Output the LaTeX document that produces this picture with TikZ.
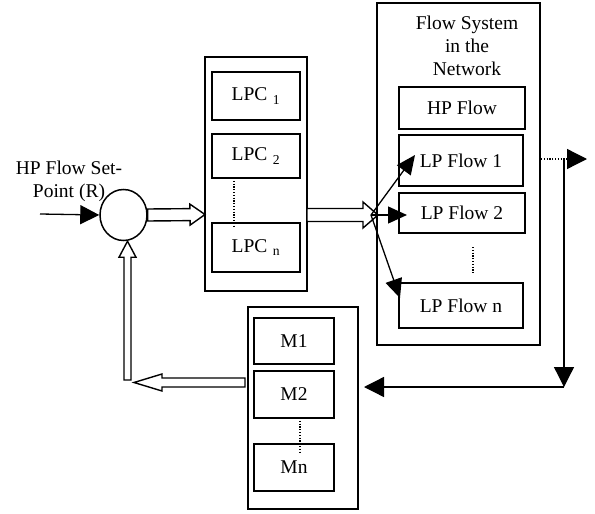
\documentclass[tikz,border=0pt]{standalone}
\usepackage{fontspec}
\setmainfont{Liberation Serif}
\usetikzlibrary{calc,arrows.meta,shapes.geometric}

% Block arrow drawn as an outlined polygon: from, to, half shaft width, half head width, head length
\newcommand{\hollowarrow}[5]{%
  \coordinate (hbase) at ($(#2)!#5!(#1)$);
  \draw[hollow] ($(#1)!#3!90:(#2)$) -- ($(hbase)!#3!90:(#2)$) -- ($(hbase)!#4!90:(#2)$)
    -- (#2) -- ($(hbase)!#4!-90:(#2)$) -- ($(hbase)!#3!-90:(#2)$) -- ($(#1)!#3!-90:(#2)$) -- cycle;}

\begin{document}
\begin{tikzpicture}[x=1pt,y=-1pt,
  txt/.style={font=\fontsize{19.5}{23}\selectfont, inner sep=0pt, align=center},
  box/.style={txt, draw, line width=1.5pt},
  thinline/.style={line width=1.3pt},
  bighead/.style={thinline, -{Triangle[length=20pt,width=20pt]}},
  lphead/.style={thinline, -{Triangle[length=19pt,width=17pt]}},
  dots/.style={line width=1.2pt, dash pattern=on 1.2pt off 1.6pt},
  hollow/.style={line width=1.4pt, fill=white, line join=miter},
]
\useasboundingbox (0,0) rectangle (595,514);

% summing junction and set-point label
\node[draw, ellipse, line width=1.5pt, minimum width=47pt, minimum height=51pt, inner sep=0pt] (sum) at (123.5,215) {};
\node[txt, anchor=north] (setpt) at (69,161) {HP Flow Set-\\Point (R)};
\coordinate (rin) at (40,214);

% local pressure controllers
\node[box, minimum width=102pt, minimum height=234pt] (lpcbox) at (256,174) {};
\node[box, minimum width=88pt, minimum height=48pt] (lpc1) at (256,96) {LPC\,\textsubscript{\,1}};
\node[box, minimum width=88pt, minimum height=44pt] (lpc2) at (256,156) {LPC\,\textsubscript{\,2}};
\node[box, minimum width=88pt, minimum height=49pt] (lpcn) at (256,247.5) {LPC\,\textsubscript{\,n}};

% flow system in the network
\node[box, minimum width=163pt, minimum height=342pt] (flowbox) at (458.5,174) {};
\node[txt, anchor=north] (flowtitle) at (467,16) {Flow System\\in the\\Network};
\node[box, minimum width=126pt, minimum height=42pt] (hpflow) at (462,108) {HP Flow};
\node[box, minimum width=124pt, minimum height=51pt] (lp1) at (461,160.5) {LP Flow 1};
\node[box, minimum width=126pt, minimum height=40pt] (lp2) at (462,213) {LP Flow 2};
\node[box, minimum width=124pt, minimum height=45pt] (lpn) at (461,305.5) {LP Flow n};

% measurement blocks
\node[box, minimum width=110pt, minimum height=202pt] (mbox) at (303,408) {};
\node[box, minimum width=80pt, minimum height=46pt] (m1) at (294,341) {M1};
\node[box, minimum width=80pt, minimum height=47pt] (m2) at (294,394.5) {M2};
\node[box, minimum width=80pt, minimum height=47pt] (mn) at (294,467.5) {Mn};

% dotted continuation marks
\draw[dots] (234,178) -- (234,227);
\draw[dots] (473,247) -- (473,273);
\draw[dots] (300,418) -- (300,453);

% set-point input
\draw[thinline, -{Triangle[length=19pt,width=19pt]}] (rin) -- (sum.west);

% block arrows of the forward path
\coordinate (lpcin) at (205,214.5);
\coordinate (lpcout) at (307,215);
\coordinate (netin) at (378,215);
\hollowarrow{sum.east}{lpcin}{6pt}{10.5pt}{15pt}
\hollowarrow{lpcout}{netin}{6.5pt}{13pt}{15pt}

% distribution to the low-pressure flows
\coordinate (split) at (371,215);
\coordinate (tip1) at (415,155);
\coordinate (tip2) at (407,215);
\coordinate (tipn) at (400,298);
\draw[lphead] (split) -- (tip1);
\draw[lphead] (split) -- (tip2);
\draw[lphead] (split) -- (tipn);

% measured output and return path
\coordinate (outstart) at (541,159);
\coordinate (outtip) at (587,159);
\coordinate (downtop) at (564,159);
\coordinate (corner) at (564,387);
\coordinate (mtip) at (364,387);
\draw[dots] (outstart) -- (566,159);
\draw[bighead] (566,159) -- (outtip);
\draw[bighead] (downtop) -- (corner);
\draw[bighead] (corner) -- (mtip);

% feedback block arrows
\coordinate (fbstart) at (245,382.5);
\coordinate (fbtip) at (134,382.5);
\coordinate (upstart) at (127.5,380);
\hollowarrow{fbstart}{fbtip}{4.5pt}{8.5pt}{28pt}
\hollowarrow{upstart}{sum.south -| upstart}{3.5pt}{8.5pt}{16pt}
\end{tikzpicture}
\end{document}
